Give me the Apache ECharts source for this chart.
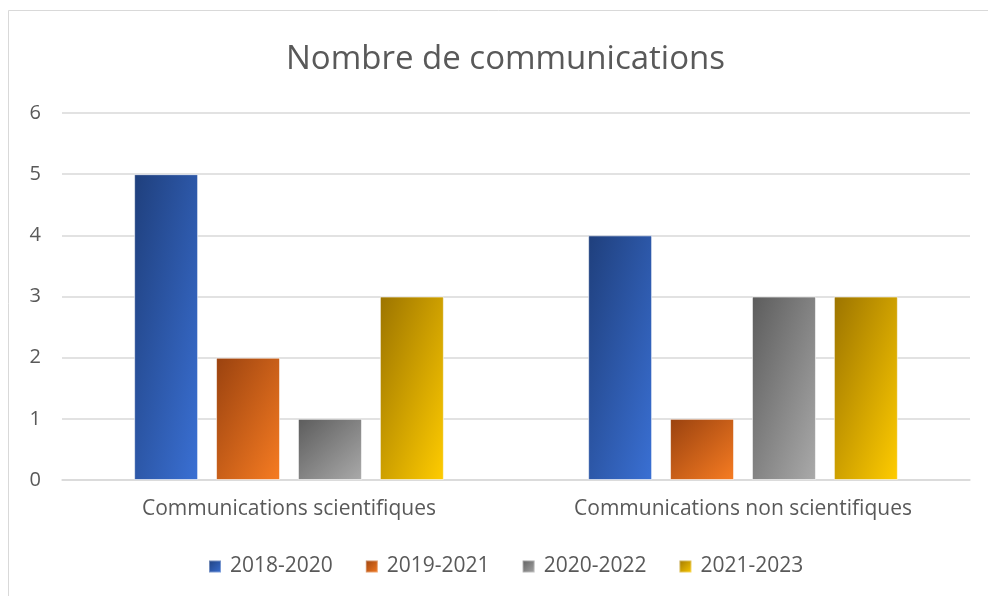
<!DOCTYPE html>
<html>
<head>
<meta charset="utf-8">
<script src="https://cdn.jsdelivr.net/npm/echarts@6/dist/echarts.min.js"></script>
<style>
  html, body { margin: 0; padding: 0; background: #fff; }
  #chart { width: 988px; height: 596px; }
</style>
</head>
<body>
<div id="chart"></div>
<script>
const categories = ["Communications scientifiques", "Communications non scientifiques"];
const seriesNames = ["2018-2020", "2019-2021", "2020-2022", "2021-2023"];
const v2018 = [5, 4];
const v2019 = [2, 1];
const v2020 = [1, 3];
const v2021 = [3, 3];
const values = [v2018, v2019, v2020, v2021];

// dark -> light diagonal fills, like the office "gradient" preset
const fills = [
  ["#1f3f7c", "#3a70d4"],
  ["#9a420f", "#f77c22"],
  ["#5c5c5c", "#aaaaaa"],
  ["#9c7400", "#ffcc00"],
];

const BAR_W = 64;
const chart = echarts.init(document.getElementById("chart"));
const font = "'Open Sans', 'Noto Sans', sans-serif";

// gradient whose mid line runs corner to corner (top-right / bottom-left),
// the way office scales a diagonal fill with the shape
const grad = (c, w, h) => {
  const d = h * h + w * w;
  return new echarts.graphic.LinearGradient(0, 0, (2 * h * h) / d, (2 * w * w) / d, [
    { offset: 0, color: c[0] },
    { offset: 1, color: c[1] },
  ]);
};

chart.setOption({
  backgroundColor: "#fff",
  animation: false,
  graphic: [
    {
      type: "rect",
      shape: { x: 8.5, y: 10.5, width: 1100, height: 700 },
      style: { fill: "none", stroke: "#d9d9d9", lineWidth: 1 },
      silent: true,
    },
  ],
  title: {
    text: "Nombre de communications",
    left: 281,
    top: 38,
    textStyle: { fontFamily: font, fontSize: 33, fontWeight: "normal", color: "#595959" },
  },
  legend: {
    bottom: 14,
    left: 203,
    itemWidth: 12,
    itemHeight: 12,
    itemGap: 32,
    icon: "rect",
    textStyle: { fontFamily: font, fontSize: 21, color: "#595959", padding: [0, 0, 0, 4] },
    data: seriesNames.map((n, i) => ({ name: n, itemStyle: { color: grad(fills[i], 1, 1) } })),
  },
  grid: { left: 62, right: 18, top: 113, bottom: 116, containLabel: false },
  xAxis: {
    type: "category",
    data: categories,
    axisLine: { lineStyle: { color: "#d9d9d9", width: 1.5 } },
    axisTick: { show: false },
    axisLabel: { fontFamily: font, fontSize: 21, color: "#595959", margin: 19 },
  },
  yAxis: {
    type: "value",
    min: 0,
    max: 6,
    interval: 1,
    axisLine: { show: false },
    axisTick: { show: false },
    axisLabel: { fontFamily: font, fontSize: 20, color: "#595959", margin: 21 },
    splitLine: { lineStyle: { color: "#d9d9d9", width: 1.5 } },
  },
  series: seriesNames.map((n, i) => ({
    name: n,
    type: "bar",
    data: values[i],
    barWidth: BAR_W,
    barGap: "28%",
    itemStyle: {
      color: fills[i][1],
      borderColor: "rgba(255,255,255,0.35)",
      borderWidth: 1,
    },
  })),
});

// second pass: per-bar gradients sized from the axis scale
const y0 = chart.convertToPixel({ yAxisIndex: 0 }, 0);
chart.setOption({
  series: seriesNames.map((n, i) => ({
    data: values[i].map((v) => {
      const h = Math.max(1, y0 - chart.convertToPixel({ yAxisIndex: 0 }, v));
      return { value: v, itemStyle: { color: grad(fills[i], BAR_W, h) } };
    }),
  })),
});
</script>
</body>
</html>
